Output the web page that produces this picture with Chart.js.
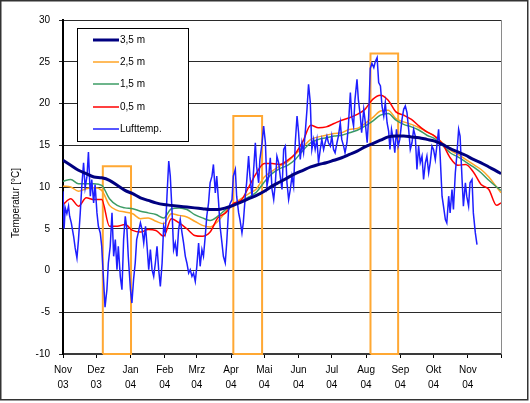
<!DOCTYPE html>
<html>
<head>
<meta charset="utf-8">
<script src="https://cdn.jsdelivr.net/npm/chart.js@4"></script>
<style>
  html, body { margin: 0; padding: 0; background: #fff; }
  canvas { display: block; }
</style>
</head>
<body>
<canvas id="chart" width="530" height="403" style="width:530px;height:403px"></canvas>
<script>
// Month ticks (days since 1 Nov 2003)
const monthDays = [0, 30, 61, 92, 121, 152, 182, 213, 243, 274, 305, 335, 366, 396];
const monthNames = ['Nov', 'Dez', 'Jan', 'Feb', 'Mrz', 'Apr', 'Mai', 'Jun', 'Jul', 'Aug', 'Sep', 'Okt', 'Nov', ''];
const yearLabels = ['03', '03', '04', '04', '04', '04', '04', '04', '04', '04', '04', '04', '04', ''];
const yTicks = [-10, -5, 0, 5, 10, 15, 20, 25, 30];

const seriesLabels = ['3,5 m', '2,5 m', '1,5 m', '0,5 m', 'Lufttemp.'];

// Soil temperatures
const soilDays = [0, 7, 14, 21, 28, 35, 42, 49, 56, 63, 70, 77, 84, 91,
  98, 105, 112, 119, 126, 133, 140, 147, 154, 161, 168, 175, 182, 189,
  196, 203, 210, 217, 224, 231, 238, 245, 252, 259, 266, 273, 280, 287,
  294, 301, 308, 315, 322, 329, 336, 343, 350, 357, 364, 371, 378, 385, 392, 396];
const depth35 = [13.2, 12.6, 12.0, 11.6, 11.2, 11.1, 10.8, 10.2, 9.6, 9.2, 8.7, 8.4, 8.1, 7.9,
  7.8, 7.7, 7.6, 7.5, 7.4, 7.3, 7.3, 7.5, 7.8, 8.2, 8.6, 9.0, 9.5, 10.1,
  10.6, 11.1, 11.6, 12.0, 12.4, 12.7, 12.9, 13.2, 13.5, 13.9, 14.3, 14.8, 15.2, 15.6,
  16.0, 16.1, 16.1, 16.0, 15.9, 15.7, 15.5, 15.1, 14.6, 14.2, 13.8, 13.3, 12.9, 12.4, 11.9, 11.6];
const depth25 = [10.1, 10.0, 9.5, 9.8, 9.9, 9.6, 7.8, 7.2, 7.0, 6.8, 6.2, 6.3, 5.9, 5.6,
  6.8, 6.6, 6.4, 5.9, 5.4, 5.2, 5.9, 7.0, 7.9, 8.6, 9.2, 9.8, 11.2, 11.9,
  12.5, 13.0, 13.9, 14.8, 15.7, 16.0, 16.2, 16.4, 16.5, 16.9, 17.0, 17.6, 18.3, 19.1,
  19.2, 18.2, 17.8, 17.5, 17.1, 16.6, 16.1, 15.3, 14.4, 13.9, 13.3, 12.7, 12.1, 11.2, 10.0, 9.3];
const depth15 = [10.7, 10.9, 10.4, 10.4, 10.4, 10.2, 8.6, 7.8, 7.5, 7.4, 7.1, 6.9, 6.7, 6.3,
  7.4, 7.5, 7.3, 6.7, 6.3, 6.0, 6.5, 7.3, 7.9, 8.3, 8.8, 9.4, 10.6, 11.6,
  12.2, 12.6, 13.3, 14.4, 15.3, 15.7, 15.9, 16.1, 16.2, 16.5, 16.8, 17.3, 17.9, 18.6,
  18.8, 18.0, 17.5, 17.2, 16.8, 16.2, 15.8, 15.0, 14.1, 13.6, 13.0, 12.4, 11.7, 10.8, 10.0, 9.6];
const depth05 = [7.9, 8.6, 7.7, 8.7, 8.5, 8.5, 5.3, 5.3, 5.5, 4.8, 4.6, 4.9, 4.8, 4.1,
  6.2, 5.7, 5.0, 4.2, 4.1, 4.6, 6.3, 6.9, 8.0, 8.4, 10.0, 11.7, 12.8, 12.8,
  12.7, 13.2, 14.0, 15.5, 17.4, 17.1, 17.2, 17.6, 18.0, 18.3, 18.7, 19.3, 20.5, 21.0,
  20.4, 19.0, 18.6, 18.1, 17.3, 16.6, 16.1, 15.2, 13.5, 12.6, 12.7, 11.8, 10.3, 9.7, 7.8, 8.1];

// Air temperature
const airDays = [0, 1, 2, 3.5, 5, 6, 7.5, 9.6, 11, 12.6,
  14, 15.6, 17, 18.6, 20, 21.7, 23, 24.7, 26, 27.7,
  29, 30.7, 32, 33.7, 35, 36.6, 38, 39.7, 41, 42.7,
  44.3, 45.8, 47.3, 48.8, 50, 51.8, 53.3, 54.8, 56.3, 57.8,
  59, 61, 62.3, 63.8, 65.3, 66.6, 68, 70, 71.5, 73,
  74.6, 76, 77.5, 79, 80.5, 82, 83.5, 85, 86.5, 88,
  89.6, 91, 92.5, 94, 95.6, 97, 98.5, 100, 101.5, 103,
  104.5, 106, 107.6, 109, 110.6, 112, 113.6, 115, 116.6, 118,
  119.6, 121, 122.6, 124, 125.6, 127, 128.6, 130, 131.6, 133,
  134.7, 136, 137.7, 139, 140.7, 142, 143.7, 145, 146.7, 148,
  149.7, 151, 152.8, 154, 155.8, 157, 158.8, 160, 161.8, 163,
  164.8, 166, 167.8, 169, 170.9, 172, 173.9, 175, 176.9, 178,
  180, 181.4, 183, 184.4, 186, 187.4, 189, 190.5, 192, 193.4,
  195, 196.4, 198, 199.5, 201, 202.5, 204, 205.5, 207, 208.5,
  210, 211.6, 213, 214.5, 216, 217.5, 219, 220.6, 222, 223.6,
  225, 226.6, 228, 229.6, 231, 232.6, 234, 235.6, 237, 238.6,
  240, 241.7, 243, 244.6, 246, 247.7, 249, 250.7, 252, 253.7,
  255, 256.7, 258, 259.8, 261, 262.7, 264, 265.8, 267, 268.8,
  270, 271.9, 273, 275, 276.4, 277.8, 279.3, 281, 282.3, 284,
  285.4, 287, 288.4, 290, 291.4, 293, 294.4, 295.6, 297, 298.6,
  300, 301.5, 303, 304.5, 306.5, 308, 309.5, 311, 312.5, 314,
  315.5, 317, 318.5, 320, 321.5, 323, 324.6, 326, 327.6, 329,
  330.6, 332, 333.6, 335, 336.6, 338, 339.6, 341, 342.7, 344,
  345.7, 347, 348.7, 350, 351.7, 353, 354.7, 356, 357.7, 359,
  360.8, 362, 363.8, 365, 366.7, 368, 369.8, 371, 372.8, 374.3];
const airTemp = [9.5, 5.0, 7.5, 6.8, 7.7, 6.5, 5.7, 4.1, 2.7, 1.5,
  3.7, 6.9, 10.1, 12.9, 9.9, 11.3, 14.2, 8.9, 10.9, 8.1,
  10.3, 6.9, 5.3, 4.5, 2.9, -1.0, -4.4, -2.3, 0.9, 2.9,
  6.9, 1.7, 3.7, 0.1, 2.9, -0.7, -2.3, 3.7, 6.5, 4.9,
  1.7, -2.3, -3.9, -1.1, 0.9, 3.7, 4.5, 5.7, 4.9, 3.3,
  5.3, 2.9, 0.1, 2.5, 0.1, -0.7, 0.9, 2.9, 0.1, -1.9,
  0.9, 5.3, 4.5, 8.9, 13.1, 11.3, 7.3, 2.5, 3.3, 1.7,
  4.9, 6.1, 4.5, 3.3, 1.7, 0.9, -0.3, 0.1, -0.7, -0.3,
  -1.3, 0.5, 3.3, 0.5, 2.5, 1.7, 4.1, 6.5, 8.1, 10.5,
  11.3, 12.7, 9.3, 11.3, 8.1, 5.3, 3.3, 1.7, 0.9, 3.3,
  7.3, 8.0, 8.5, 11.3, 12.1, 8.9, 6.9, 6.1, 4.5, 5.7,
  8.9, 10.5, 13.7, 11.3, 8.9, 11.3, 15.3, 12.5, 10.5, 13.3,
  15.3, 17.3, 15.3, 10.1, 11.3, 13.5, 9.7, 8.5, 10.5, 13.7,
  12.9, 11.3, 9.7, 14.5, 14.9, 10.5, 8.5, 9.7, 11.3, 10.1,
  15.3, 18.5, 16.5, 13.3, 15.3, 14.1, 16.5, 19.3, 22.3, 20.1,
  14.5, 15.7, 14.5, 15.7, 12.9, 14.5, 15.7, 14.5, 15.3, 16.1,
  15.3, 14.9, 16.1, 14.5, 14.1, 15.3, 16.1, 17.7, 15.7, 14.9,
  14.1, 15.3, 17.3, 21.3, 18.5, 17.3, 20.5, 22.9, 20.5, 18.5,
  16.5, 19.3, 18.1, 15.3, 18.5, 24.2, 24.8, 24.3, 25.0, 25.5,
  22.5, 22.1, 19.7, 18.5, 20.1, 17.7, 16.7, 14.5, 16.9, 15.7,
  14.1, 16.9, 14.9, 15.7, 18.1, 19.3, 19.7, 18.9, 16.9, 14.5,
  15.3, 16.9, 16.1, 12.1, 14.9, 12.9, 13.7, 10.9, 12.9, 13.7,
  11.7, 12.9, 14.9, 14.5, 13.3, 14.9, 16.9, 13.7, 8.9, 7.7,
  6.1, 5.7, 8.9, 6.9, 9.7, 7.3, 11.7, 13.7, 16.9, 16.1,
  10.9, 7.7, 10.5, 8.9, 7.7, 10.5, 10.9, 6.9, 4.5, 3.1];

// Highlighted periods (orange frames)
const boxStart = [36, 154, 278];
const boxEnd = [61.5, 180, 303];
const boxTop = [12.5, 18.5, 26];

const colors = ['#000080', '#FFA526', '#3C9C64', '#FF0000', '#1E1EFF'];
const widths = [3, 1.5, 1.5, 1.5, 1.5];

function pairs(xs, ys) {
  return xs.map((x, i) => ({ x: x, y: ys[i] }));
}

const soilSeries = [depth35, depth25, depth15, depth05];
const drawOrder = [0, 4, 3, 2, 1];

const datasets = [];
soilSeries.forEach((vals, i) => {
  datasets.push({
    label: seriesLabels[i],
    data: pairs(soilDays, vals),
    borderColor: colors[i],
    borderWidth: widths[i],
    pointRadius: 0,
    cubicInterpolationMode: 'monotone',
    order: drawOrder[i]
  });
});
datasets.push({
  label: seriesLabels[4],
  data: pairs(airDays, airTemp),
  borderColor: colors[4],
  borderWidth: widths[4],
  pointRadius: 0,
  tension: 0,
  order: 1
});
boxStart.forEach((s, i) => {
  datasets.push({
    label: '',
    data: [
      { x: s, y: -10 }, { x: s, y: boxTop[i] },
      { x: boxEnd[i], y: boxTop[i] }, { x: boxEnd[i], y: -10 }, { x: s, y: -10 }
    ],
    borderColor: '#FFA833',
    borderWidth: 2,
    pointRadius: 0,
    tension: 0,
    clip: false,
    order: 5
  });
});

// Legend box, axis title, plot border and outer frame
const decorPlugin = {
  id: 'decor',
  beforeDatasetsDraw(chart) {
    const { ctx, chartArea: a } = chart;
    ctx.save();
    ctx.strokeStyle = '#8a8a8a';
    ctx.lineWidth = 1;
    ctx.beginPath();
    ctx.moveTo(a.right + 0.5, a.top);
    ctx.lineTo(a.right + 0.5, a.bottom);
    ctx.stroke();
    ctx.restore();
  },
  afterDatasetsDraw(chart) {
    const ctx = chart.ctx;
    ctx.save();
    ctx.fillStyle = '#fff';
    ctx.fillRect(77, 28, 111, 113);
    ctx.strokeStyle = '#000';
    ctx.lineWidth = 1;
    ctx.strokeRect(77.5, 28.5, 111, 113);
    ctx.font = '10px "Liberation Sans", Arial, sans-serif';
    ctx.fillStyle = '#000';
    ctx.textBaseline = 'middle';
    const rows = [40, 62, 84, 107, 129];
    seriesLabels.forEach((lab, i) => {
      ctx.strokeStyle = colors[i];
      ctx.lineWidth = widths[i];
      ctx.beginPath();
      ctx.moveTo(93, rows[i]);
      ctx.lineTo(119, rows[i]);
      ctx.stroke();
      ctx.fillText(lab, 120, rows[i] + 0.5);
    });
    ctx.restore();
  },
  afterDraw(chart) {
    const ctx = chart.ctx;
    ctx.save();
    ctx.font = '10px "Liberation Sans", Arial, sans-serif';
    ctx.fillStyle = '#000';
    ctx.translate(16, 203);
    ctx.rotate(-Math.PI / 2);
    ctx.textAlign = 'center';
    ctx.textBaseline = 'middle';
    ctx.fillText('Temperatur [°C]', 0, 0);
    ctx.restore();
    ctx.save();
    ctx.strokeStyle = '#333';
    ctx.lineWidth = 1.5;
    ctx.strokeRect(0.75, 0.75, 527, 399);
    ctx.restore();
  }
};

Chart.defaults.font.family = '"Liberation Sans", Arial, sans-serif';
Chart.defaults.font.size = 10;
Chart.defaults.color = '#000';

new Chart(document.getElementById('chart'), {
  type: 'line',
  data: { datasets: datasets },
  options: {
    responsive: false,
    animation: false,
    layout: { padding: { top: 20, right: 29, left: 0, bottom: 0 } },
    plugins: { legend: { display: false }, tooltip: { enabled: false } },
    scales: {
      x: {
        type: 'linear',
        min: 0,
        max: 396,
        afterBuildTicks: s => { s.ticks = monthDays.map(v => ({ value: v })); },
        afterFit: s => { s.height = 49; },
        ticks: {
          autoSkip: false,
          maxRotation: 0,
          padding: 5,
          font: { size: 10, lineHeight: 1.45 },
          callback: (v, i) => [monthNames[i], yearLabels[i]]
        },
        grid: { drawOnChartArea: false, drawTicks: true, tickLength: 4, color: '#000' },
        border: { color: '#3a3a3a', width: 2 }
      },
      y: {
        min: -10,
        max: 30,
        afterBuildTicks: s => { s.ticks = yTicks.map(v => ({ value: v })); },
        afterFit: s => { s.width = 63; },
        ticks: { padding: 9, font: { size: 10 } },
        grid: { color: '#2a2a2a', lineWidth: 1, tickLength: 4 },
        border: { color: '#000', width: 2 }
      }
    }
  },
  plugins: [decorPlugin]
});
</script>
</body>
</html>
